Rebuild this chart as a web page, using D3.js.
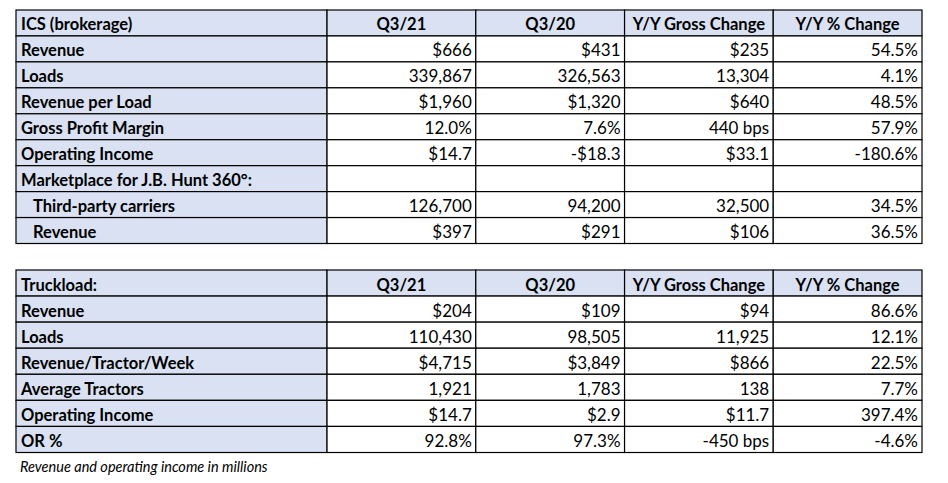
<!DOCTYPE html>
<html>
<head>
<meta charset="utf-8">
<script src="https://cdn.jsdelivr.net/npm/d3@7"></script>
<style>
  body { margin: 0; background: #fff; }
  svg text { font-family: Lato, "Open Sans", sans-serif; }
</style>
</head>
<body>
<svg id="chart" width="948" height="483"></svg>
<script>
const columns = ['Q3/21', 'Q3/20', 'Y/Y Gross Change', 'Y/Y % Change'];

const icsTitle = 'ICS (brokerage)';
const icsLabels = ['Revenue', 'Loads', 'Revenue per Load', 'Gross Profit Margin', 'Operating Income',
  'Marketplace for J.B. Hunt 360°:', 'Third-party carriers', 'Revenue'];
const icsIndented = [6, 7];
const icsQ321 = ['$666', '339,867', '$1,960', '12.0%', '$14.7', '', '126,700', '$397'];
const icsQ320 = ['$431', '326,563', '$1,320', '7.6%', '-$18.3', '', '94,200', '$291'];
const icsGross = ['$235', '13,304', '$640', '440 bps', '$33.1', '', '32,500', '$106'];
const icsPct = ['54.5%', '4.1%', '48.5%', '57.9%', '-180.6%', '', '34.5%', '36.5%'];

const truckTitle = 'Truckload:';
const truckLabels = ['Revenue', 'Loads', 'Revenue/Tractor/Week', 'Average Tractors', 'Operating Income', 'OR %'];
const truckIndented = [];
const truckQ321 = ['$204', '110,430', '$4,715', '1,921', '$14.7', '92.8%'];
const truckQ320 = ['$109', '98,505', '$3,849', '1,783', '$2.9', '97.3%'];
const truckGross = ['$94', '11,925', '$866', '138', '$11.7', '-450 bps'];
const truckPct = ['86.6%', '12.1%', '22.5%', '7.7%', '397.4%', '-4.6%'];

const footnote = 'Revenue and operating income in millions';

const svg = d3.select('#chart');
const blue = '#d9e1f2';

// column edges as fractions of table width: wide label column + 4 equal value columns
const colEdge = [0, 0.3433, 0.5075, 0.6717, 0.8358, 1];
const x = d3.scaleLinear().domain([0, 1]).range([16, 922]);

function drawTable(top, bottom, title, labels, indented, series) {
  const rows = d3.range(labels.length + 1);
  const y = d3.scaleBand().domain(rows).range([top, bottom]);
  const g = svg.append('g');

  const cells = [];
  rows.forEach((r) => {
    for (let c = 0; c < 5; c++) {
      let text, kind;
      if (r === 0) {
        text = c === 0 ? title : columns[c - 1];
        kind = c === 0 ? 'label' : 'head';
      } else {
        text = c === 0 ? labels[r - 1] : series[c - 1][r - 1];
        kind = c === 0 ? 'label' : 'value';
      }
      cells.push({ r, c, text, kind, indent: c === 0 && indented.includes(r - 1) });
    }
  });

  g.selectAll('rect')
    .data(cells)
    .join('rect')
    .attr('x', (d) => x(colEdge[d.c]))
    .attr('y', (d) => y(d.r))
    .attr('width', (d) => x(colEdge[d.c + 1]) - x(colEdge[d.c]))
    .attr('height', y.bandwidth())
    .attr('fill', (d) => (d.r === 0 || d.c === 0 ? blue : '#fff'))
    .attr('stroke', '#000')
    .attr('stroke-width', 1.2);

  g.selectAll('text')
    .data(cells)
    .join('text')
    .attr('x', (d) => {
      if (d.kind === 'label') return x(colEdge[0]) + (d.indent ? 17 : 5);
      if (d.kind === 'head') return (x(colEdge[d.c]) + x(colEdge[d.c + 1])) / 2;
      return x(colEdge[d.c + 1]) - 4;
    })
    .attr('y', (d) => y(d.r) + y.bandwidth() - 5.5)
    .attr('text-anchor', (d) => (d.kind === 'label' ? 'start' : d.kind === 'head' ? 'middle' : 'end'))
    .style('font-size', (d) => (d.kind === 'value' ? '17px' : '16.5px'))
    .style('font-weight', (d) => (d.kind === 'value' ? 400 : 700))
    .style('fill', '#000')
    .text((d) => d.text);
}

drawTable(10, 243.5, icsTitle, icsLabels, icsIndented, [icsQ321, icsQ320, icsGross, icsPct]);
drawTable(270, 452.5, truckTitle, truckLabels, truckIndented, [truckQ321, truckQ320, truckGross, truckPct]);

svg.append('text')
  .attr('x', 20)
  .attr('y', 472)
  .style('font-size', '14.5px')
  .style('font-style', 'italic')
  .style('fill', '#000')
  .text(footnote);
</script>
</body>
</html>
